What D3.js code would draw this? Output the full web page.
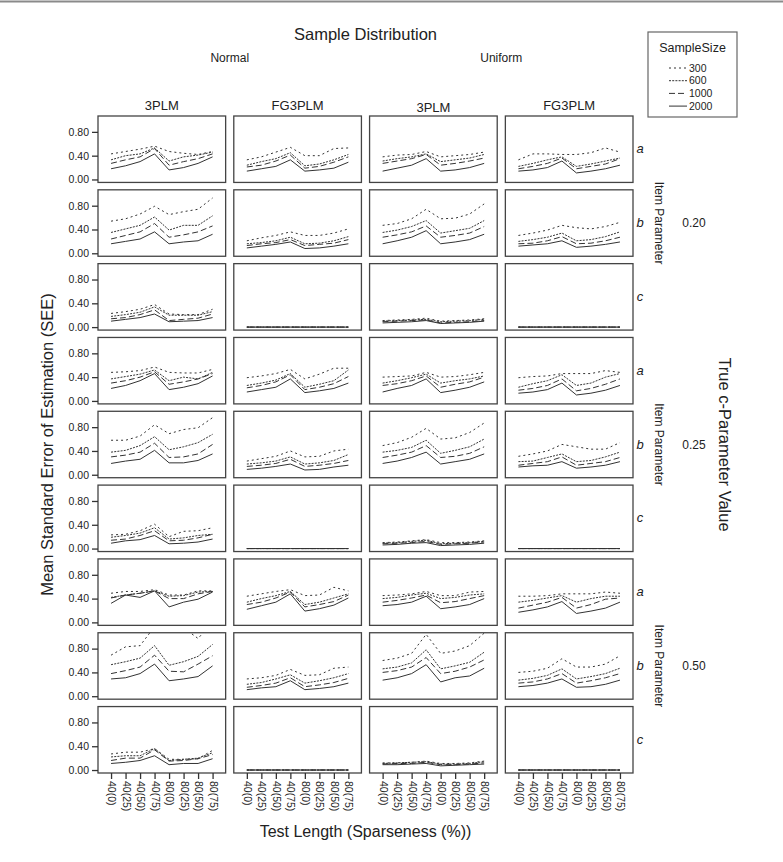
<!DOCTYPE html>
<html>
<head>
<meta charset="utf-8">
<style>
  body { margin: 0; background: #fff; }
  text { font-family: "Liberation Sans", Arial, sans-serif; fill: #222; }
</style>
</head>
<body>
<script src="https://d3js.org/d3.v7.min.js"></script>
<script>
// categories
const distributions = ['Normal', 'Uniform'];
const models = ['3PLM', 'FG3PLM', '3PLM', 'FG3PLM'];
const params = ['a', 'b', 'c'];
const cValues = ['0.20', '0.25', '0.50'];
const sampleSizes = ['300', '600', '1000', '2000'];
const testLengths = ['40(0)', '40(25)', '40(50)', '40(75)', '80(0)', '80(25)', '80(50)', '80(75)'];
const yTicks = [0, 0.4, 0.8];

// each row: [Normal 3PLM, Normal FG3PLM, Uniform 3PLM, Uniform FG3PLM]
// each panel: [n=300, n=600, n=1000, n=2000]
const zero8 = [0, 0, 0, 0, 0, 0, 0, 0];

const rowA20 = [
  [[0.43,0.47,0.51,0.56,0.47,0.44,0.42,0.47],[0.33,0.40,0.43,0.53,0.31,0.38,0.41,0.46],[0.27,0.33,0.38,0.52,0.24,0.30,0.35,0.43],[0.18,0.23,0.30,0.43,0.16,0.20,0.27,0.38]],
  [[0.33,0.38,0.46,0.54,0.40,0.40,0.52,0.53],[0.24,0.30,0.35,0.45,0.23,0.26,0.33,0.42],[0.21,0.24,0.31,0.41,0.19,0.22,0.29,0.38],[0.14,0.18,0.22,0.33,0.14,0.16,0.19,0.29]],
  [[0.38,0.41,0.42,0.47,0.38,0.40,0.42,0.46],[0.31,0.35,0.38,0.43,0.30,0.33,0.36,0.42],[0.27,0.31,0.35,0.42,0.24,0.27,0.31,0.36],[0.14,0.19,0.24,0.35,0.14,0.16,0.20,0.27]],
  [[0.33,0.43,0.43,0.42,0.42,0.45,0.53,0.46],[0.22,0.27,0.33,0.38,0.22,0.26,0.31,0.36],[0.18,0.22,0.27,0.36,0.18,0.22,0.26,0.35],[0.14,0.16,0.20,0.31,0.11,0.14,0.18,0.24]]
];
const rowB20 = [
  [[0.54,0.58,0.66,0.79,0.65,0.70,0.74,0.93],[0.35,0.41,0.47,0.61,0.39,0.47,0.47,0.63],[0.24,0.30,0.36,0.50,0.27,0.31,0.36,0.46],[0.16,0.20,0.24,0.36,0.16,0.19,0.21,0.32]],
  [[0.21,0.26,0.30,0.36,0.30,0.30,0.34,0.41],[0.16,0.18,0.21,0.27,0.16,0.17,0.21,0.28],[0.13,0.16,0.18,0.23,0.13,0.15,0.17,0.23],[0.09,0.12,0.15,0.19,0.08,0.09,0.12,0.16]],
  [[0.47,0.50,0.58,0.74,0.58,0.59,0.66,0.83],[0.35,0.39,0.45,0.55,0.34,0.38,0.42,0.55],[0.27,0.31,0.36,0.46,0.27,0.30,0.34,0.45],[0.16,0.21,0.27,0.38,0.16,0.19,0.23,0.32]],
  [[0.30,0.34,0.39,0.47,0.43,0.41,0.45,0.52],[0.20,0.23,0.27,0.34,0.21,0.23,0.28,0.36],[0.16,0.17,0.21,0.28,0.16,0.17,0.21,0.27],[0.12,0.14,0.16,0.21,0.10,0.12,0.15,0.19]]
];
const rowC20 = [
  [[0.23,0.26,0.30,0.38,0.22,0.21,0.21,0.30],[0.18,0.21,0.25,0.34,0.20,0.20,0.20,0.26],[0.14,0.16,0.21,0.29,0.11,0.13,0.15,0.22],[0.10,0.13,0.16,0.22,0.09,0.10,0.11,0.16]],
  [zero8, zero8, zero8, zero8],
  [[0.11,0.12,0.13,0.15,0.10,0.11,0.12,0.14],[0.10,0.11,0.12,0.13,0.09,0.10,0.11,0.13],[0.09,0.10,0.11,0.12,0.07,0.08,0.09,0.11],[0.07,0.08,0.09,0.11,0.06,0.07,0.08,0.10]],
  [zero8, zero8, zero8, zero8]
];
const rowA25 = [
  [[0.48,0.49,0.51,0.57,0.48,0.47,0.47,0.53],[0.37,0.41,0.45,0.52,0.34,0.40,0.37,0.48],[0.30,0.34,0.40,0.49,0.28,0.32,0.37,0.46],[0.21,0.26,0.34,0.46,0.19,0.23,0.29,0.42]],
  [[0.39,0.42,0.46,0.53,0.37,0.45,0.55,0.55],[0.26,0.30,0.35,0.46,0.23,0.28,0.34,0.52],[0.22,0.26,0.32,0.44,0.19,0.23,0.29,0.41],[0.15,0.19,0.23,0.37,0.14,0.17,0.21,0.30]],
  [[0.40,0.41,0.42,0.48,0.40,0.41,0.44,0.48],[0.30,0.34,0.39,0.45,0.30,0.34,0.37,0.42],[0.26,0.29,0.34,0.42,0.23,0.28,0.32,0.40],[0.15,0.21,0.26,0.37,0.14,0.18,0.23,0.32]],
  [[0.39,0.41,0.42,0.46,0.46,0.46,0.51,0.48],[0.23,0.29,0.34,0.44,0.26,0.30,0.40,0.46],[0.18,0.21,0.26,0.37,0.17,0.21,0.28,0.37],[0.13,0.15,0.19,0.30,0.10,0.13,0.18,0.26]]
];
const rowB25 = [
  [[0.58,0.58,0.65,0.84,0.69,0.76,0.79,0.96],[0.38,0.41,0.49,0.64,0.42,0.47,0.54,0.68],[0.30,0.33,0.38,0.53,0.29,0.30,0.35,0.51],[0.19,0.23,0.26,0.41,0.20,0.20,0.24,0.35]],
  [[0.23,0.27,0.31,0.40,0.30,0.31,0.40,0.43],[0.18,0.20,0.23,0.30,0.18,0.20,0.24,0.34],[0.14,0.16,0.19,0.26,0.14,0.16,0.19,0.24],[0.09,0.11,0.14,0.18,0.08,0.09,0.13,0.16]],
  [[0.49,0.54,0.63,0.78,0.60,0.62,0.71,0.87],[0.38,0.41,0.46,0.58,0.36,0.41,0.47,0.60],[0.29,0.33,0.38,0.49,0.29,0.31,0.36,0.47],[0.19,0.23,0.29,0.38,0.18,0.22,0.26,0.35]],
  [[0.31,0.35,0.40,0.51,0.47,0.43,0.43,0.54],[0.22,0.23,0.29,0.35,0.22,0.24,0.30,0.38],[0.16,0.19,0.22,0.30,0.16,0.19,0.22,0.29],[0.13,0.15,0.16,0.22,0.11,0.13,0.16,0.22]]
];
const rowC25 = [
  [[0.23,0.24,0.30,0.41,0.20,0.29,0.30,0.35],[0.19,0.22,0.26,0.35,0.16,0.18,0.22,0.24],[0.14,0.16,0.22,0.30,0.13,0.14,0.18,0.24],[0.09,0.13,0.15,0.22,0.08,0.09,0.11,0.16]],
  [zero8, zero8, zero8, zero8],
  [[0.10,0.11,0.13,0.15,0.10,0.10,0.11,0.13],[0.09,0.10,0.12,0.14,0.08,0.09,0.10,0.12],[0.08,0.09,0.10,0.12,0.07,0.08,0.09,0.11],[0.06,0.07,0.09,0.10,0.05,0.06,0.07,0.09]],
  [zero8, zero8, zero8, zero8]
];
const rowA50 = [
  [[0.49,0.52,0.52,0.55,0.46,0.46,0.53,0.53],[0.42,0.46,0.49,0.53,0.44,0.45,0.51,0.52],[0.41,0.46,0.49,0.53,0.40,0.40,0.48,0.52],[0.32,0.46,0.42,0.53,0.26,0.34,0.39,0.51]],
  [[0.44,0.48,0.52,0.55,0.45,0.46,0.59,0.53],[0.34,0.40,0.45,0.52,0.30,0.34,0.41,0.48],[0.30,0.34,0.41,0.51,0.26,0.30,0.35,0.46],[0.22,0.28,0.34,0.48,0.19,0.23,0.29,0.41]],
  [[0.45,0.46,0.48,0.52,0.45,0.45,0.51,0.52],[0.40,0.42,0.46,0.49,0.40,0.42,0.46,0.48],[0.34,0.37,0.41,0.46,0.33,0.35,0.40,0.45],[0.28,0.30,0.34,0.44,0.23,0.26,0.30,0.40]],
  [[0.44,0.44,0.45,0.48,0.48,0.48,0.51,0.49],[0.34,0.37,0.41,0.45,0.34,0.40,0.44,0.44],[0.24,0.29,0.34,0.42,0.24,0.30,0.39,0.41],[0.17,0.21,0.26,0.35,0.15,0.19,0.24,0.34]]
];
const rowB50 = [
  [[0.69,0.83,0.85,1.17,1.12,1.15,0.97,1.25],[0.53,0.58,0.64,0.85,0.52,0.58,0.67,0.87],[0.38,0.43,0.49,0.69,0.42,0.41,0.54,0.68],[0.29,0.31,0.38,0.54,0.26,0.29,0.33,0.51]],
  [[0.29,0.31,0.35,0.45,0.35,0.36,0.47,0.49],[0.20,0.23,0.29,0.36,0.22,0.26,0.31,0.38],[0.15,0.18,0.22,0.31,0.16,0.19,0.23,0.30],[0.11,0.14,0.16,0.26,0.11,0.13,0.16,0.22]],
  [[0.60,0.64,0.72,1.04,0.72,0.76,0.85,1.06],[0.46,0.49,0.56,0.78,0.46,0.51,0.57,0.74],[0.40,0.43,0.49,0.65,0.38,0.42,0.49,0.61],[0.27,0.31,0.38,0.53,0.24,0.31,0.34,0.47]],
  [[0.40,0.42,0.47,0.63,0.49,0.49,0.54,0.68],[0.27,0.30,0.35,0.46,0.29,0.33,0.38,0.47],[0.22,0.24,0.29,0.38,0.22,0.26,0.31,0.38],[0.16,0.18,0.22,0.29,0.15,0.16,0.20,0.27]]
];
const rowC50 = [
  [[0.27,0.30,0.30,0.36,0.18,0.18,0.19,0.33],[0.22,0.24,0.24,0.36,0.16,0.18,0.20,0.29],[0.16,0.20,0.20,0.34,0.15,0.16,0.19,0.26],[0.11,0.13,0.16,0.24,0.09,0.11,0.11,0.19]],
  [zero8, zero8, zero8, zero8],
  [[0.12,0.12,0.13,0.15,0.11,0.11,0.12,0.15],[0.11,0.12,0.13,0.14,0.10,0.10,0.11,0.14],[0.10,0.11,0.11,0.13,0.09,0.09,0.10,0.12],[0.09,0.09,0.10,0.11,0.07,0.08,0.09,0.10]],
  [zero8, zero8, zero8, zero8]
];

const rows = [rowA20, rowB20, rowC20, rowA25, rowB25, rowC25, rowA50, rowB50, rowC50];

const dashes = ['2,3', '2,1.2', '6,3', null];
const lineColor = '#333';

const W = 783, H = 862;
const svg = d3.select('body').append('svg')
  .attr('width', W)
  .attr('height', H);

svg.append('line')
  .attr('x1', 0).attr('x2', W)
  .attr('y1', 1.5).attr('y2', 1.5)
  .attr('stroke', '#8a8a8a')
  .attr('stroke-width', 2);

const colScale = d3.scaleBand()
  .domain(d3.range(4))
  .range([98, 633])
  .paddingInner(0.06);

const rowScale = d3.scaleBand()
  .domain(d3.range(9))
  .range([116, 773])
  .paddingInner(0.1);

const pw = colScale.bandwidth();
const ph = rowScale.bandwidth();

const x = d3.scalePoint()
  .domain(testLengths)
  .range([0, pw])
  .padding(0.9);

const y = d3.scaleLinear()
  .domain([-0.05, 1.067])
  .range([ph, 0]);

const line = d3.line()
  .x((d, i) => x(testLengths[i]))
  .y(d => y(d));

svg.append('defs').append('clipPath')
  .attr('id', 'panelClip')
  .append('rect')
  .attr('width', pw)
  .attr('height', ph);

rows.forEach((row, r) => {
  row.forEach((panel, c) => {
    const g = svg.append('g')
      .attr('transform', `translate(${colScale(c)},${rowScale(r)})`);

    g.append('g')
      .attr('clip-path', 'url(#panelClip)')
      .selectAll('path')
      .data(panel)
      .join('path')
      .attr('d', line)
      .attr('fill', 'none')
      .attr('stroke', lineColor)
      .attr('stroke-width', 1)
      .attr('stroke-dasharray', (d, i) => dashes[i]);

    g.append('rect')
      .attr('width', pw)
      .attr('height', ph)
      .attr('fill', 'none')
      .attr('stroke', '#444')
      .attr('stroke-width', 1.3);

    if (c === 0) {
      const ya = g.append('g')
        .call(d3.axisLeft(y).tickValues(yTicks).tickFormat(d3.format('.2f')).tickSize(6).tickSizeOuter(0));
      ya.select('.domain').remove();
      ya.selectAll('line').attr('stroke', '#333').attr('stroke-width', 1.3);
      ya.selectAll('text').attr('font-size', 10.5).attr('fill', '#222')
        .style('font-family', '"Liberation Sans", Arial, sans-serif');
    }

    if (r === 8) {
      const xa = g.append('g')
        .attr('transform', `translate(0,${ph})`)
        .call(d3.axisBottom(x).tickSize(6).tickSizeOuter(0));
      xa.select('.domain').remove();
      xa.selectAll('line').attr('stroke', '#333').attr('stroke-width', 1.3);
      xa.selectAll('text')
        .attr('font-size', 10.5)
        .attr('fill', '#222')
        .style('font-family', '"Liberation Sans", Arial, sans-serif')
        .attr('text-anchor', 'start')
        .attr('transform', 'rotate(90)')
        .attr('x', 8)
        .attr('y', 0)
        .attr('dy', '0.32em');
    }
  });
});

// column headers
models.forEach((m, c) => {
  svg.append('text')
    .attr('x', colScale(c) + pw / 2)
    .attr('y', c === 2 ? 112 : 110)
    .attr('text-anchor', 'middle')
    .attr('font-size', 13)
    .text(m);
});

distributions.forEach((d, i) => {
  svg.append('text')
    .attr('x', (colScale(i * 2) + colScale(i * 2 + 1) + pw) / 2)
    .attr('y', 62)
    .attr('text-anchor', 'middle')
    .attr('font-size', 12)
    .text(d);
});

svg.append('text')
  .attr('x', (98 + 633) / 2)
  .attr('y', 40)
  .attr('text-anchor', 'middle')
  .attr('font-size', 16.5)
  .text('Sample Distribution');

// right side labels
rows.forEach((row, r) => {
  svg.append('text')
    .attr('x', 640)
    .attr('y', rowScale(r) + ph / 2 + 4)
    .attr('text-anchor', 'middle')
    .attr('font-size', 13)
    .attr('font-style', 'italic')
    .text(params[r % 3]);
});

cValues.forEach((cv, k) => {
  const cy = rowScale(k * 3 + 1) + ph / 2;
  svg.append('text')
    .attr('transform', `translate(655,${cy}) rotate(90)`)
    .attr('text-anchor', 'middle')
    .attr('font-size', 12)
    .text('Item Parameter');
  svg.append('text')
    .attr('x', 694)
    .attr('y', cy + 4)
    .attr('text-anchor', 'middle')
    .attr('font-size', 12)
    .text(cv);
});

const gridMidY = (116 + 773) / 2;
svg.append('text')
  .attr('transform', `translate(719,${gridMidY}) rotate(90)`)
  .attr('text-anchor', 'middle')
  .attr('font-size', 16.5)
  .text('True c-Parameter Value');

svg.append('text')
  .attr('transform', `translate(53,${gridMidY}) rotate(-90)`)
  .attr('text-anchor', 'middle')
  .attr('font-size', 16.5)
  .text('Mean Standard Error of Estimation (SEE)');

svg.append('text')
  .attr('x', (98 + 633) / 2)
  .attr('y', 837)
  .attr('text-anchor', 'middle')
  .attr('font-size', 16)
  .text('Test Length (Sparseness (%))');

// legend
const legend = svg.append('g').attr('transform', 'translate(648,32)');
legend.append('rect')
  .attr('width', 89)
  .attr('height', 85)
  .attr('fill', '#fff')
  .attr('stroke', '#666')
  .attr('stroke-width', 1.2);
legend.append('text')
  .attr('x', 44.5)
  .attr('y', 20)
  .attr('text-anchor', 'middle')
  .attr('font-size', 12.5)
  .text('SampleSize');
const item = legend.selectAll('.item')
  .data(sampleSizes)
  .join('g')
  .attr('class', 'item')
  .attr('transform', (d, i) => `translate(0,${36 + i * 12.7})`);
item.append('line')
  .attr('x1', 21).attr('x2', 39)
  .attr('stroke', lineColor)
  .attr('stroke-width', 1)
  .attr('stroke-dasharray', (d, i) => dashes[i]);
item.append('text')
  .attr('x', 41)
  .attr('dy', '0.35em')
  .attr('font-size', 10.5)
  .text(d => d);
</script>
</body>
</html>
